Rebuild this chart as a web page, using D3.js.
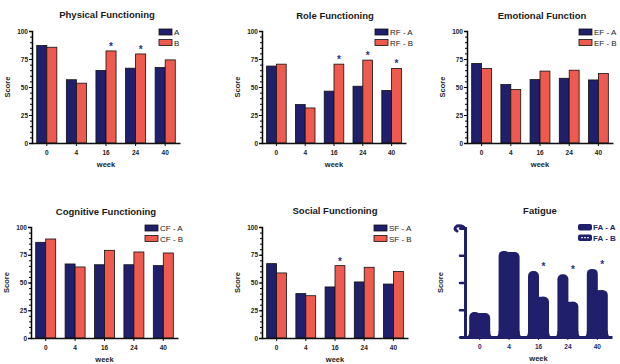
<!DOCTYPE html>
<html>
<head>
<meta charset="utf-8">
<script src="https://cdn.jsdelivr.net/npm/d3@7"></script>
<style>
  body { margin: 0; background: #fff; }
  svg { display: block; font-family: "Liberation Sans", Arial, sans-serif; }
</style>
</head>
<body>
<svg id="chart" width="620" height="364"></svg>
<script>
// Week categories and y tick labels
const weeks = ["0", "4", "16", "24", "40"];
const yTicks = [0, 25, 50, 75, 100];

// Physical functioning
const pfA = [87, 56.5, 64.7, 66.8, 67.4];
const pfB = [85.5, 53.4, 82.2, 79.5, 74.2];
const pfSig = [0, 0, 1, 1, 0];

// Role functioning
const rfA = [68.7, 34.3, 46.3, 50.7, 46.9];
const rfB = [70.4, 31.3, 70.4, 74, 66.6];
const rfSig = [0, 0, 1, 1, 1];

// Emotional function
const efA = [71, 52.2, 56.6, 57.8, 56.3];
const efB = [66.6, 47.8, 64.2, 65, 62];
const efSig = [0, 0, 0, 0, 0];

// Cognitive functioning
const cfA = [86.2, 66.7, 66, 66, 65.2];
const cfB = [89.2, 64, 79, 77.5, 76.6];
const cfSig = [0, 0, 0, 0, 0];

// Social functioning
const sfA = [67, 40, 46, 50.5, 48.6];
const sfB = [58.6, 38.1, 65.2, 63.7, 60];
const sfSig = [0, 0, 1, 0, 0];

// Fatigue
const faA = [23, 79, 60.6, 57.5, 62.5];
const faB = [22, 78, 36.9, 32.3, 43];
const faSig = [0, 0, 1, 1, 1];

const navy = "#1f1f6b";
const red = "#ef5a4e";

const svg = d3.select("#chart");

// Panel layout (plot area corners, title and legend positions)
const panels = [
    { title: "Physical Functioning", a: pfA, b: pfB, sig: pfSig, names: ["A", "B"],
      x0: 32, x1: 180, yT: 31, yB: 143, tx: 107, ty: 18, lx: 159, ly: 29 },
    { title: "Role Functioning", a: rfA, b: rfB, sig: rfSig, names: ["RF - A", "RF - B"],
      x0: 262, x1: 406, yT: 31, yB: 143, tx: 335, ty: 19, lx: 375, ly: 29 },
    { title: "Emotional Function", a: efA, b: efB, sig: efSig, names: ["EF - A", "EF - B"],
      x0: 467, x1: 613, yT: 31, yB: 143, tx: 542, ty: 19, lx: 579, ly: 29 },
    { title: "Cognitive Functioning", a: cfA, b: cfB, sig: cfSig, names: ["CF - A", "CF - B"],
      x0: 31, x1: 178, yT: 227, yB: 338, tx: 106, ty: 215, lx: 145, ly: 225 },
    { title: "Social Functioning", a: sfA, b: sfB, sig: sfSig, names: ["SF - A", "SF - B"],
      x0: 262, x1: 408, yT: 227, yB: 338, tx: 335, ty: 214, lx: 374, ly: 225 },
    { title: "Fatigue", a: faA, b: faB, sig: faSig, names: ["FA - A", "FA - B"],
      x0: 465, x1: 612, yT: 228, yB: 337, tx: 540, ty: 214, lx: 578, ly: 224, blob: true }
];

panels.forEach(drawPanel);

function drawPanel(p) {
    const g = svg.append("g");

    const x = d3.scaleBand().domain(weeks).range([p.x0, p.x1]);
    const sub = d3.scaleBand().domain([0, 1])
        .range([x.bandwidth() * 0.16, x.bandwidth() * 0.84]);
    const y = d3.scaleLinear().domain([0, 100]).range([p.yB, p.yT]);

    const rows = weeks.map((w, i) => ({ w: w, a: p.a[i], b: p.b[i], sig: p.sig[i] }));
    const axisColor = p.blob ? navy : "#111";

    // title
    g.append("text")
        .attr("x", p.tx).attr("y", p.ty)
        .attr("text-anchor", "middle")
        .attr("font-size", "9.5px").attr("font-weight", "bold")
        .attr("fill", "#1a1a1a")
        .text(p.title);

    // bars
    const groups = g.selectAll(".grp").data(rows).enter().append("g")
        .attr("class", "grp")
        .attr("transform", d => "translate(" + x(d.w) + ",0)");

    if (p.blob) {
        // the fatigue panel is drawn as merged dark blobs
        const bw = sub.bandwidth();
        groups.append("rect")
            .attr("x", sub(0) - 0.5).attr("width", bw + 1)
            .attr("y", d => y(d.a)).attr("height", d => p.yB - y(d.a))
            .attr("rx", 5).attr("fill", navy);
        groups.append("rect")
            .attr("x", sub(1) - 0.5).attr("width", bw + 1)
            .attr("y", d => y(d.b)).attr("height", d => p.yB - y(d.b))
            .attr("rx", 5).attr("fill", navy);
        // fill the seam between the two bars
        groups.append("rect")
            .attr("x", sub(1) - 6).attr("width", 12)
            .attr("y", d => y(Math.min(d.a, d.b)))
            .attr("height", d => p.yB - y(Math.min(d.a, d.b)))
            .attr("fill", navy);
        // flared foot
        groups.append("path")
            .attr("d", "M" + (sub(0) - 3) + "," + p.yB +
                " Q" + (sub(0) - 0.5) + "," + (p.yB - 1) + " " + (sub(0) - 0.5) + "," + (p.yB - 6) +
                " L" + (sub(1) + bw + 0.5) + "," + (p.yB - 6) +
                " Q" + (sub(1) + bw + 0.5) + "," + (p.yB - 1) + " " + (sub(1) + bw + 3) + "," + p.yB + " Z")
            .attr("fill", navy);
    } else {
        groups.append("rect")
            .attr("x", sub(0)).attr("width", sub.bandwidth())
            .attr("y", d => y(d.a)).attr("height", d => p.yB - y(d.a))
            .attr("fill", navy).attr("stroke", "#111").attr("stroke-width", 0.8);
        groups.append("rect")
            .attr("x", sub(1)).attr("width", sub.bandwidth())
            .attr("y", d => y(d.b)).attr("height", d => p.yB - y(d.b))
            .attr("fill", red).attr("stroke", "#111").attr("stroke-width", 0.8);
    }

    // significance stars
    groups.filter(d => d.sig).append("text")
        .attr("x", sub(1) + sub.bandwidth() / 2)
        .attr("y", d => y(Math.max(d.a, d.b)) - 1)
        .attr("text-anchor", "middle")
        .attr("font-size", "10px").attr("font-weight", "bold")
        .attr("fill", "#2a2f8a")
        .text("*");

    // y axis with minor ticks
    if (p.blob) {
        const yAxis = g.append("g")
            .attr("transform", "translate(" + p.x0 + ",0)")
            .call(d3.axisLeft(y).tickValues(yTicks).tickSize(5).tickFormat(""));
        yAxis.select(".domain").attr("stroke", navy).attr("stroke-width", 3);
        yAxis.selectAll(".tick line").attr("stroke", navy).attr("stroke-width", 2.5)
            .attr("stroke-linecap", "round");
        // curl at the top of the axis
        yAxis.append("path")
            .attr("d", "M0," + (p.yT + 1) + " Q-2," + (p.yT - 3) + " -8," + (p.yT - 2) +
                " Q-12," + (p.yT + 1) + " -8," + (p.yT + 3))
            .attr("fill", "none").attr("stroke", navy).attr("stroke-width", 3)
            .attr("stroke-linecap", "round");
    } else {
        g.append("g")
            .attr("transform", "translate(" + p.x0 + ",0)")
            .call(d3.axisLeft(y).ticks(20).tickSize(2).tickFormat(""))
            .call(s => s.select(".domain").remove());
        const yAxis = g.append("g")
            .attr("transform", "translate(" + p.x0 + ",0)")
            .call(d3.axisLeft(y).tickValues(yTicks).tickSize(3).tickPadding(1));
        yAxis.select(".domain").attr("stroke-width", 1.5);
        yAxis.selectAll("text")
            .attr("font-size", "6.5px").attr("font-weight", "bold")
            .attr("fill", "#222").attr("font-family", "Liberation Sans, Arial, sans-serif");
    }

    // x axis
    const xAxis = g.append("g")
        .attr("transform", "translate(0," + p.yB + ")")
        .call(d3.axisBottom(x).tickSize(3).tickSizeOuter(0).tickPadding(4));
    xAxis.select(".domain")
        .attr("stroke", axisColor)
        .attr("stroke-width", p.blob ? 3 : 1.5);
    xAxis.selectAll("line").attr("stroke", axisColor);
    xAxis.selectAll("text")
        .attr("font-size", "6.5px").attr("font-weight", "bold")
        .attr("fill", p.blob ? navy : "#222")
        .attr("font-family", "Liberation Sans, Arial, sans-serif");

    // axis titles
    g.append("text")
        .attr("transform", "translate(" + (p.x0 - 22) + "," + ((p.yT + p.yB) / 2) + ") rotate(-90)")
        .attr("text-anchor", "middle")
        .attr("font-size", "7.5px").attr("font-weight", "bold")
        .attr("fill", "#222")
        .text("Score");

    g.append("text")
        .attr("x", (p.x0 + p.x1) / 2).attr("y", p.yB + 24)
        .attr("text-anchor", "middle")
        .attr("font-size", "7.5px").attr("font-weight", "bold")
        .attr("fill", "#222")
        .text("week");

    // legend
    const leg = g.append("g").attr("transform", "translate(" + p.lx + "," + p.ly + ")");
    p.names.forEach(function(name, i) {
        const yy = i * 10.5;
        if (p.blob) {
            leg.append("rect")
                .attr("x", 0).attr("y", yy).attr("width", 14).attr("height", 6.5)
                .attr("rx", 2).attr("fill", navy);
            if (i === 1) {
                leg.append("line")
                    .attr("x1", 3).attr("x2", 11).attr("y1", yy + 3.2).attr("y2", yy + 3.2)
                    .attr("stroke", "#fff").attr("stroke-width", 1)
                    .attr("stroke-dasharray", "2,1");
            }
        } else {
            leg.append("rect")
                .attr("x", 0).attr("y", yy).attr("width", 13).attr("height", 6)
                .attr("fill", i === 0 ? navy : red)
                .attr("stroke", "#111").attr("stroke-width", 0.8);
        }
        leg.append("text")
            .attr("x", 15).attr("y", yy + 6)
            .attr("font-size", "8px")
            .attr("font-weight", p.blob ? "bold" : "normal")
            .attr("fill", p.blob ? navy : "#222")
            .text(name);
    });
}
</script>
</body>
</html>
